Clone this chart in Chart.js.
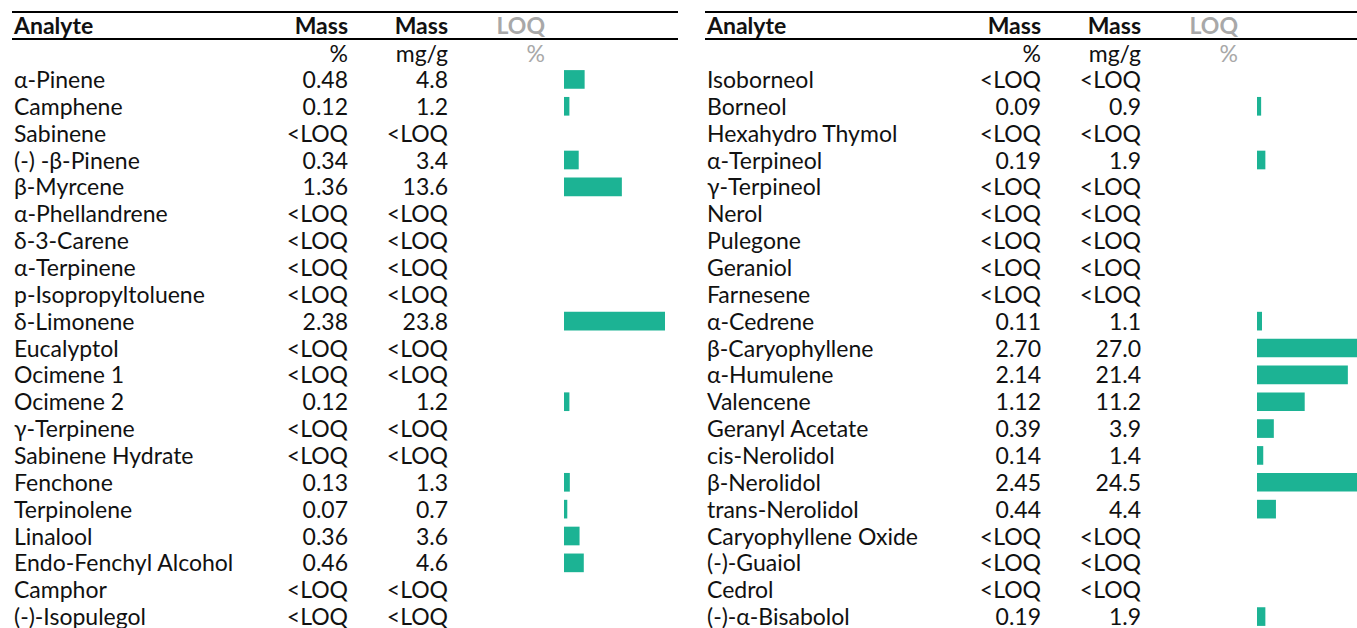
<!DOCTYPE html>
<html lang="en">
<head>
  <meta charset="UTF-8" />
  <title>Terpene profile</title>
  <script src="https://cdn.jsdelivr.net/npm/chart.js"></script>
  <style>
    * { box-sizing: border-box; margin: 0; padding: 0; }
    html, body { width: 1357px; height: 628px; overflow: hidden; background: #fff; }
    body { font-family: Lato, "Open Sans", sans-serif; font-size: 23px; color: #111; position: relative; }
    .panel { position: absolute; top: 0; width: 666px; height: 628px; }
    .rule { position: absolute; left: 0; width: 666px; height: 2px; background: #000; }
    .cell { position: absolute; white-space: nowrap; }
    .bold { font-weight: 700; }
    .grey { color: #a8a8a8; }
    .bars { position: absolute; top: 66px; left: 552px; }
  </style>
</head>
<body>

<div class="panel" id="leftPanel" style="left:12px"></div>
<div class="panel" id="rightPanel" style="left:705px"></div>

<script>
  // header text
  const headTop = ['Analyte', 'Mass', 'Mass', 'LOQ'];
  const headUnits = ['', '%', 'mg/g', '%'];

  // left table
  const leftNames = ['α-Pinene', 'Camphene', 'Sabinene', '(-) -β-Pinene', 'β-Myrcene', 'α-Phellandrene',
    'δ-3-Carene', 'α-Terpinene', 'p-Isopropyltoluene', 'δ-Limonene', 'Eucalyptol', 'Ocimene 1',
    'Ocimene 2', 'γ-Terpinene', 'Sabinene Hydrate', 'Fenchone', 'Terpinolene', 'Linalool',
    'Endo-Fenchyl Alcohol', 'Camphor', '(-)-Isopulegol'];
  const leftPct = [0.48, 0.12, null, 0.34, 1.36, null, null, null, null, 2.38, null, null,
    0.12, null, null, 0.13, 0.07, 0.36, 0.46, null, null];
  const leftMg = [4.8, 1.2, null, 3.4, 13.6, null, null, null, null, 23.8, null, null,
    1.2, null, null, 1.3, 0.7, 3.6, 4.6, null, null];

  // right table
  const rightNames = ['Isoborneol', 'Borneol', 'Hexahydro Thymol', 'α-Terpineol', 'γ-Terpineol', 'Nerol',
    'Pulegone', 'Geraniol', 'Farnesene', 'α-Cedrene', 'β-Caryophyllene', 'α-Humulene',
    'Valencene', 'Geranyl Acetate', 'cis-Nerolidol', 'β-Nerolidol', 'trans-Nerolidol',
    'Caryophyllene Oxide', '(-)-Guaiol', 'Cedrol', '(-)-α-Bisabolol'];
  const rightPct = [null, 0.09, null, 0.19, null, null, null, null, null, 0.11, 2.70, 2.14,
    1.12, 0.39, 0.14, 2.45, 0.44, null, null, null, 0.19];
  const rightMg = [null, 0.9, null, 1.9, null, null, null, null, null, 1.1, 27.0, 21.4,
    11.2, 3.9, 1.4, 24.5, 4.4, null, null, null, 1.9];

  const ROW_H = 564 / 21;
  const EDGES = [336, 436, 533];   // right edges of Mass %, Mass mg/g, LOQ columns

  function addCell(panel, text, top, h, col, cls) {
    const d = document.createElement('div');
    d.className = 'cell ' + (cls || '');
    d.textContent = text;
    d.style.top = top + 'px';
    d.style.height = h + 'px';
    d.style.lineHeight = h + 'px';
    if (col === 0) {
      d.style.left = '2px';
    } else {
      d.style.left = '0px';
      d.style.width = EDGES[col - 1] + 'px';
      d.style.textAlign = 'right';
    }
    panel.appendChild(d);
  }

  function buildTable(id, names, pct, mg) {
    const panel = document.getElementById(id);

    [11, 38].forEach(y => {
      const r = document.createElement('div');
      r.className = 'rule';
      r.style.top = y + 'px';
      panel.appendChild(r);
    });

    headTop.forEach((t, i) => addCell(panel, t, 13, 25, i, i === 3 ? 'bold grey' : 'bold'));
    headUnits.forEach((t, i) => addCell(panel, t, 40, 26, i, i === 3 ? 'grey' : ''));

    names.forEach((n, i) => {
      const y = 66 + i * ROW_H;
      addCell(panel, n, y, ROW_H, 0);
      addCell(panel, pct[i] == null ? '<LOQ' : pct[i].toFixed(2), y, ROW_H, 1);
      addCell(panel, mg[i] == null ? '<LOQ' : mg[i].toFixed(1), y, ROW_H, 2);
    });

    const canvas = document.createElement('canvas');
    canvas.className = 'bars';
    canvas.width = 116;
    canvas.height = 564;
    panel.appendChild(canvas);

    new Chart(canvas.getContext('2d'), {
      type: 'bar',
      data: {
        labels: names,
        datasets: [{
          data: pct,
          backgroundColor: '#1cb394',
          barThickness: 18
        }]
      },
      options: {
        indexAxis: 'y',
        responsive: false,
        animation: false,
        layout: { padding: 0 },
        plugins: { legend: { display: false }, tooltip: { enabled: false } },
        scales: {
          x: { display: false, min: 0, max: 116 / 42.3 },
          y: { display: false }
        }
      }
    });
  }

  buildTable('leftPanel', leftNames, leftPct, leftMg);
  buildTable('rightPanel', rightNames, rightPct, rightMg);
</script>

</body>
</html>
